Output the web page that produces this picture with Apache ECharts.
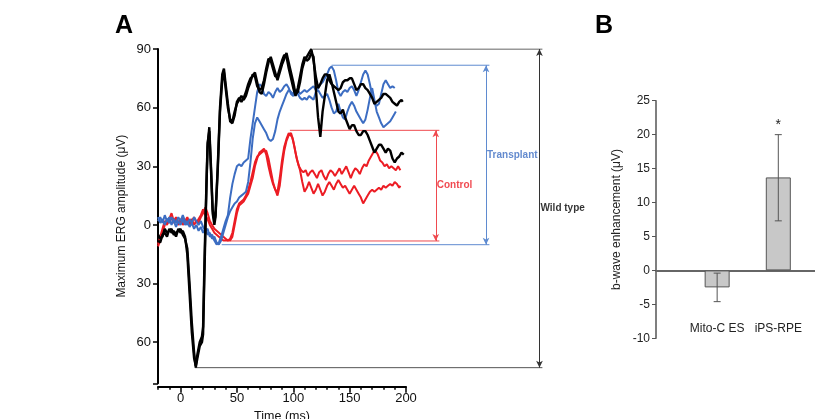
<!DOCTYPE html>
<html><head><meta charset="utf-8">
<script src="https://cdn.jsdelivr.net/npm/echarts@6/dist/echarts.min.js"></script>
<style>html,body{margin:0;padding:0;background:#fff}#c{width:815px;height:419px}</style>
</head><body><div id="c"></div>
<script>
// ---------- Panel A: ERG traces (time ms, amplitude µV) ----------
const wildType1 = [[-20,-5],[-18,-7],[-16,-6],[-14,-2],[-12,-4],[-10,-3],[-8,-2],[-6,-5],[-4,-4],[-2,-3],[0,-2],[2,-5],[4,-7],[6,-12],[8,-30],[10,-50],[12,-65],[13.5,-73],[15,-68],[17,-62],[19,-60],[20,-56],[21,-30],[22,-5],[23,20],[24,40],[25.5,50],[27,30],[28.5,8],[30,2],[31,5],[33,30],[35,60],[37,77],[38.5,80],[40,72],[42,62],[44,53],[46,52],[48,56],[50,63],[52,65],[54,63],[56,65],[58,68],[60,72],[62,75],[64,76],[66,78],[68,73],[70,68],[72,67],[74,72],[76,78],[78,83],[80,86],[82,82],[84,78],[86,74],[88,78],[90,82],[92,85],[94,88],[96,83],[98,78],[100,73],[102,67],[104,68],[106,73],[108,80],[110,84],[112,86],[114,88],[116,90],[118,84],[120,76],[122,70],[124,72],[126,75],[128,77],[130,77],[132,74],[134,72],[136,71],[138,70],[140,69],[142,70],[144,73],[146,74],[148,74],[150,75],[152,75],[154,72],[156,69],[158,70],[160,72],[162,72],[164,70],[166,69],[168,67],[170,65],[172,62],[174,63],[176,64],[178,65],[180,67],[182,67],[184,66],[186,65],[188,63],[190,62],[192,61],[194,63],[196,64],[197,63]];
const wildType2 = [[-20,-8],[-18,-9],[-16,-5],[-14,-4],[-12,-6],[-10,-2],[-8,-4],[-6,-3],[-4,-6],[-2,-2],[0,-4],[2,-3],[4,-6],[6,-15],[8,-35],[10,-55],[12,-68],[13.5,-72],[15,-66],[17,-60],[19,-57],[20,-52],[21,-25],[22,0],[23,22],[24,42],[25.5,48],[27,28],[28.5,6],[30,0],[31,4],[33,28],[35,58],[37,74],[38.5,78],[40,70],[42,60],[44,54],[46,53],[48,58],[50,62],[52,64],[54,66],[56,64],[58,66],[60,70],[62,73],[64,77],[66,76],[68,71],[70,69],[72,70],[74,74],[76,80],[78,85],[80,84],[82,80],[84,76],[86,76],[88,80],[90,84],[92,87],[94,86],[96,80],[98,75],[100,70],[102,66],[104,70],[106,76],[108,82],[110,86],[112,84],[114,85],[116,88],[118,86],[120,70],[122,55],[124,45],[126,58],[128,66],[130,74],[132,77],[134,73],[136,68],[138,63],[140,58],[142,57],[144,59],[146,55],[148,52],[150,49],[152,51],[154,51],[156,48],[158,46],[160,46],[162,48],[164,48],[166,46],[168,43],[170,40],[172,37],[174,39],[176,41],[178,41],[180,39],[182,37],[184,39],[186,38],[188,34],[190,32],[192,34],[194,35],[196,37],[198,36]];
const transplant1 = [[-20,2],[-18,4],[-16,1],[-14,5],[-12,2],[-10,4],[-8,0],[-6,3],[-4,1],[-2,4],[0,2],[2,5],[4,2],[6,0],[8,3],[10,1],[12,4],[14,2],[16,0],[18,2],[20,-1],[22,-3],[24,-2],[26,-6],[28,-5],[30,-8],[32,-10],[34,-9],[36,-6],[38,-2],[40,2],[42,5],[44,14],[46,21],[48,26],[50,30],[52,31],[54,30],[56,32],[58,33],[60,34],[62,44],[64,52],[66,60],[68,68],[70,72],[72,71],[74,67],[76,66],[78,68],[80,67],[82,65],[84,68],[86,70],[88,68],[90,69],[92,71],[94,72],[96,70],[98,67],[100,66],[102,68],[104,69],[106,67],[108,68],[110,69],[112,68],[114,69],[116,70],[118,71],[120,69],[122,70],[124,72],[126,73],[128,75],[130,77],[132,80],[134,81],[136,79],[138,74],[140,68],[142,66],[144,68],[146,69],[148,68],[150,70],[152,71],[154,69],[156,66],[158,69],[160,73],[162,77],[164,79],[166,77],[168,72],[170,66],[172,62],[174,61],[176,62],[178,67],[180,72],[182,74],[184,72],[186,70],[188,71],[190,70]];
const transplant2 = [[-20,4],[-18,1],[-16,3],[-14,0],[-12,3],[-10,1],[-8,4],[-6,2],[-4,-1],[-2,2],[0,0],[2,3],[4,0],[6,2],[8,-1],[10,1],[12,-2],[14,0],[16,-3],[18,-1],[20,-4],[22,-2],[24,-5],[26,-4],[28,-7],[30,-6],[32,-9],[34,-10],[36,-8],[38,-4],[40,0],[42,4],[44,7],[46,9],[48,11],[50,12],[52,14],[54,15],[56,16],[58,17],[60,22],[62,32],[64,44],[66,52],[68,55],[70,53],[72,51],[74,49],[76,47],[78,44],[80,43],[82,44],[84,48],[86,54],[88,58],[90,61],[92,64],[94,67],[96,69],[98,68],[100,67],[102,69],[104,67],[106,65],[108,64],[110,65],[112,64],[114,66],[116,65],[118,64],[120,68],[122,69],[124,67],[126,65],[128,66],[130,67],[132,64],[134,60],[136,57],[138,58],[140,62],[142,58],[144,55],[146,54],[148,58],[150,61],[152,63],[154,61],[156,58],[158,56],[160,54],[162,52],[164,54],[166,59],[168,65],[170,70],[172,64],[174,58],[176,55],[178,52],[180,50],[182,51],[184,52],[186,53],[188,55],[190,57],[191,58]];
const control1 = [[-20,-10],[-18,-6],[-16,-2],[-14,2],[-12,0],[-10,3],[-8,6],[-6,2],[-4,4],[-2,1],[0,3],[2,0],[4,2],[6,4],[8,1],[10,3],[12,0],[14,2],[16,1],[18,4],[20,6],[22,9],[24,6],[26,2],[28,0],[30,-2],[32,-3],[34,-4],[36,-5],[38,-6],[40,-7],[42,-8],[44,-8],[46,-6],[48,0],[50,6],[52,10],[54,11],[56,12],[58,14],[60,16],[62,20],[64,24],[66,30],[68,34],[70,37],[72,38],[74,39],[76,36],[78,30],[80,25],[82,21],[84,18],[86,17],[88,24],[90,33],[92,40],[94,44],[96,47],[97,48],[99,45],[101,40],[103,34],[105,30],[107,28],[109,27],[111,28],[113,25],[115,27],[117,28],[119,26],[121,24],[123,27],[125,28],[127,25],[129,23],[131,26],[133,28],[135,27],[137,25],[139,27],[141,29],[143,26],[145,28],[147,30],[149,27],[151,24],[153,27],[155,29],[157,28],[159,26],[161,29],[163,31],[165,30],[167,33],[169,35],[171,37],[173,38],[175,36],[177,33],[179,32],[181,30],[183,31],[185,29],[187,30],[189,29],[191,28],[193,30],[195,28]];
const control2 = [[-20,-11],[-18,-8],[-16,-4],[-14,0],[-12,3],[-10,1],[-8,4],[-6,1],[-4,3],[-2,0],[0,2],[2,4],[4,1],[6,3],[8,0],[10,2],[12,4],[14,1],[16,3],[18,5],[20,8],[22,5],[24,3],[26,0],[28,-2],[30,-4],[32,-5],[34,-6],[36,-7],[38,-8],[40,-8],[42,-8],[44,-7],[46,-4],[48,2],[50,8],[52,11],[54,12],[56,13],[58,15],[60,18],[62,22],[64,27],[66,32],[68,35],[70,36],[72,37],[74,38],[76,38],[78,34],[80,28],[82,22],[84,18],[86,15],[88,20],[90,30],[92,38],[94,43],[96,46],[98,47],[100,43],[102,37],[104,32],[106,28],[108,22],[110,17],[112,19],[114,22],[116,19],[118,16],[120,18],[122,21],[124,18],[126,15],[128,17],[130,20],[132,22],[134,20],[136,18],[138,21],[140,23],[142,21],[144,19],[146,20],[148,18],[150,16],[152,18],[154,20],[156,18],[158,16],[160,14],[162,11],[164,13],[166,15],[168,17],[170,18],[172,17],[174,18],[176,19],[178,18],[180,20],[182,19],[184,20],[186,21],[188,20],[190,22],[192,21],[194,19],[195,20]];

const timeTickLabels = [0, 50, 100, 150, 200];
const timeMinorTicks = [-20,-10,0,10,20,30,40,50,60,70,80,90,100,110,120,130,140,150,160,170,180,190,200];
const ampTickLabels = [90, 60, 30, 0, -30, -60];

// range annotations (Wild type / Transplant / Control)
const rangeNames = ['Wild type', 'Transplant', 'Control'];
const rangeTop = [90, 81.7, 48.4];
const rangeBottom = [-73, -10.1, -8.2];
const rangeTopFrom = [117.5, 134, 97];
const rangeBottomFrom = [12.8, 36.5, 44];
const rangeLineTo = [321, 274, 229.6];
const rangeArrowAt = [318.4, 271, 226.4];

// ---------- Panel B: bar chart ----------
const barCategories = ['Mito-C ES', 'iPS-RPE'];
const barValues = [-2.5, 13.7];
const barErrLow = [-4.6, 7.3];
const barErrHigh = [-0.4, 20.0];
const barMarks = ['', '*'];

// ---------- chart ----------
const FONT = '"Liberation Sans", Arial, sans-serif';
const A_LEFT = 158, A_TOP = 49, A_H = 334.3, A_W = 248;
const X_MIN = -20, X_MAX = 200, Y_MIN = -81, Y_MAX = 90, OV_MAX = 340;
const pxPerMs = A_W / (X_MAX - X_MIN);
const C_BLACK = '#000', C_BLUE = '#3c6dc2', C_RED = '#ec1c24';
const rangeColors = ['#000', C_BLUE, C_RED];
const rangeLineColors = ['#333', '#5f8bd0', '#ef4a4f'];

const chart = echarts.init(document.getElementById('c'), null, { renderer: 'canvas' });

function trace(data, color, width) {
  return { type: 'line', xAxisIndex: 0, yAxisIndex: 0, data: data, showSymbol: false, symbol: 'none',
    lineStyle: { color: color, width: width }, silent: true, z: 3 };
}

const series = [
  trace(control1, C_RED, 2), trace(control2, C_RED, 2),
  trace(transplant1, C_BLUE, 2), trace(transplant2, C_BLUE, 2),
  trace(wildType1, C_BLACK, 2.4), trace(wildType2, C_BLACK, 2.4)
];

rangeNames.forEach((name, i) => {
  series.push({ type: 'line', xAxisIndex: 2, yAxisIndex: 1, symbol: 'none', silent: true, z: 2,
    data: [[rangeTopFrom[i], rangeTop[i]], [rangeLineTo[i], rangeTop[i]]],
    lineStyle: { color: rangeLineColors[i], width: 1 } });
  series.push({ type: 'line', xAxisIndex: 2, yAxisIndex: 1, symbol: 'none', silent: true, z: 2,
    data: [[rangeBottomFrom[i], rangeBottom[i]], [rangeLineTo[i], rangeBottom[i]]],
    lineStyle: { color: i === 0 ? '#555' : rangeLineColors[i], width: 1 },
    markLine: { silent: true, symbol: ['arrow', 'arrow'], symbolSize: [5, 7], animation: false,
      label: { show: false },
      lineStyle: { color: rangeLineColors[i], width: 1, type: 'solid' },
      data: [[{ coord: [rangeArrowAt[i], rangeTop[i]] }, { coord: [rangeArrowAt[i], rangeBottom[i]] }]] } });
  series.push({ type: 'scatter', xAxisIndex: 2, yAxisIndex: 1, symbolSize: 0, silent: true, z: 4,
    data: [[rangeArrowAt[i], (rangeTop[i] + rangeBottom[i]) / 2]],
    label: { show: true, position: 'right', distance: 1, formatter: name,
      color: rangeColors[i], fontWeight: 'bold', fontSize: 10, fontFamily: FONT } });
});

series.push({ type: 'bar', xAxisIndex: 3, yAxisIndex: 2, barWidth: 25, silent: true,
  data: barValues.map((v, i) => [i + 1, v]),
  itemStyle: { color: '#c8c8c8', borderColor: '#555', borderWidth: 1 } });

series.push({ type: 'custom', xAxisIndex: 3, yAxisIndex: 2, silent: true, z: 5,
  data: barCategories.map((c, i) => [i + 1, barErrLow[i], barErrHigh[i]]),
  encode: { x: 0, y: [1, 2] },
  renderItem: function (params, api) {
    const x = api.value(0), lo = api.value(1), hi = api.value(2);
    const pLo = api.coord([x, lo]), pHi = api.coord([x, hi]);
    const cap = 3.5, st = { stroke: '#555', lineWidth: 1 };
    const children = [
      { type: 'line', shape: { x1: pLo[0], y1: pLo[1], x2: pHi[0], y2: pHi[1] }, style: st },
      { type: 'line', shape: { x1: pLo[0] - cap, y1: pLo[1], x2: pLo[0] + cap, y2: pLo[1] }, style: st },
      { type: 'line', shape: { x1: pHi[0] - cap, y1: pHi[1], x2: pHi[0] + cap, y2: pHi[1] }, style: st }
    ];
    const mark = barMarks[params.dataIndex];
    if (mark) children.push({ type: 'text', style: { text: mark, x: pHi[0], y: pHi[1] - 3,
      align: 'center', verticalAlign: 'bottom', fontSize: 14, fontFamily: FONT, fill: '#222' } });
    return { type: 'group', children: children };
  } });

const option = {
  animation: false,
  backgroundColor: '#fff',
  title: [
    { text: 'A', left: 115, top: 14, padding: 0, textStyle: { fontSize: 25, fontWeight: 'bold', color: '#000', fontFamily: FONT } },
    { text: 'B', left: 595, top: 14, padding: 0, textStyle: { fontSize: 25, fontWeight: 'bold', color: '#000', fontFamily: FONT } }
  ],
  grid: [
    { left: A_LEFT, top: A_TOP, width: A_W, height: A_H, containLabel: false, outerBoundsMode: 'none' },
    { left: A_LEFT, top: A_TOP, width: (OV_MAX - X_MIN) * pxPerMs, height: A_H, containLabel: false, outerBoundsMode: 'none' },
    { left: 656, top: 100.7, width: 159, height: 237.6, containLabel: false, outerBoundsMode: 'none' }
  ],
  xAxis: [
    { gridIndex: 0, type: 'value', min: X_MIN, max: X_MAX, position: 'bottom', offset: 3.5,
      axisLine: { onZero: false, lineStyle: { color: '#000', width: 2 } },
      axisTick: { customValues: timeMinorTicks, length: 3, lineStyle: { color: '#000', width: 1.5 } },
      axisLabel: { customValues: timeTickLabels, fontSize: 13, color: '#111', margin: 5, fontFamily: FONT },
      splitLine: { show: false },
      name: 'Time (ms)', nameLocation: 'middle', nameGap: 20,
      nameTextStyle: { fontSize: 12.5, color: '#111', fontFamily: FONT } },
    { gridIndex: 0, type: 'value', min: X_MIN, max: X_MAX, position: 'bottom', offset: 3.5,
      axisLine: { show: false, onZero: false },
      axisTick: { customValues: timeTickLabels, length: 6, lineStyle: { color: '#000', width: 1.5 } },
      axisLabel: { show: false }, splitLine: { show: false } },
    { gridIndex: 1, type: 'value', min: X_MIN, max: OV_MAX, show: false },
    { gridIndex: 2, type: 'value', min: 0, max: 2.6,
      axisLine: { onZero: true, lineStyle: { color: '#666', width: 2 } },
      axisTick: { show: false },
      axisLabel: { customValues: [1, 2], formatter: v => barCategories[Math.round(v) - 1] || '',
        margin: -16, fontSize: 12, color: '#222', fontFamily: FONT },
      splitLine: { show: false } }
  ],
  yAxis: [
    { gridIndex: 0, type: 'value', min: Y_MIN, max: Y_MAX,
      axisLine: { show: true, onZero: false, lineStyle: { color: '#000', width: 2 } },
      axisTick: { show: true, customValues: [Y_MIN].concat(ampTickLabels), length: 5, lineStyle: { color: '#000', width: 1.5 } },
      axisLabel: { customValues: ampTickLabels, formatter: v => String(Math.abs(v)), fontSize: 13, color: '#111', margin: 7, fontFamily: FONT },
      splitLine: { show: false },
      name: 'Maximum ERG amplitude (μV)', nameLocation: 'middle', nameGap: 30,
      nameTextStyle: { fontSize: 12, color: '#111', fontFamily: FONT } },
    { gridIndex: 1, type: 'value', min: Y_MIN, max: Y_MAX, show: false },
    { gridIndex: 2, type: 'value', min: -10, max: 25, interval: 5,
      axisLine: { show: true, onZero: false, lineStyle: { color: '#555', width: 1.5 } },
      axisTick: { show: true, length: 4, lineStyle: { color: '#555' } },
      axisLabel: { fontSize: 12, color: '#222', margin: 6, fontFamily: FONT },
      splitLine: { show: false },
      name: 'b-wave enhancement (μV)', nameLocation: 'middle', nameGap: 33,
      nameTextStyle: { fontSize: 12, color: '#222', fontFamily: FONT } }
  ],
  series: series
};
chart.setOption(option);
</script></body></html>
